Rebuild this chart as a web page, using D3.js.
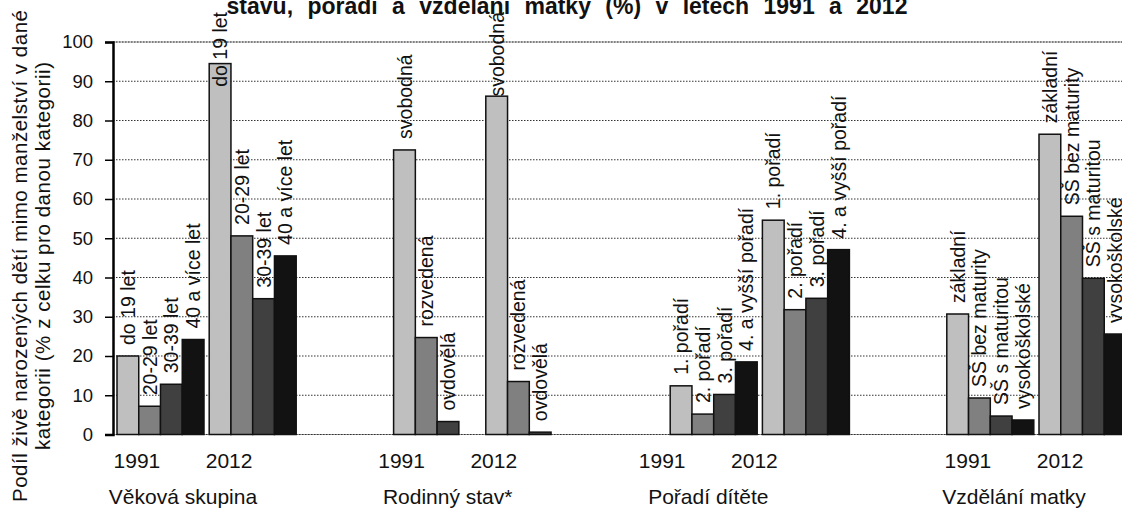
<!DOCTYPE html>
<html><head><meta charset="utf-8">
<script src="https://cdn.jsdelivr.net/npm/d3@7"></script>
<style>
html,body{margin:0;padding:0;background:#fff;}
svg{display:block;font-family:Arial,"Liberation Sans",sans-serif;}
</style></head>
<body>
<svg id="chart" width="1122" height="511"></svg>
<script>
// ---------------- DATA ----------------
const groups = ["Věková skupina", "Rodinný stav*", "Pořadí dítěte", "Vzdělání matky"];
const years = ["1991", "2012"];
const seriesAge = ["do 19 let", "20-29 let", "30-39 let", "40 a více let"];
const seriesMarital = ["svobodná", "rozvedená", "ovdovělá"];
const seriesOrder = ["1. pořadí", "2. pořadí", "3. pořadí", "4. a vyšší pořadí"];
const seriesEdu = ["základní", "SŠ bez maturity", "SŠ s maturitou", "vysokoškolské"];
const age1991 = [20.0, 7.2, 12.8, 24.2];
const age2012 = [94.5, 50.6, 34.6, 45.5];
const marital1991 = [72.5, 24.7, 3.3];
const marital2012 = [86.2, 13.5, 0.6];
const order1991 = [12.4, 5.2, 10.2, 18.5];
const order2012 = [54.6, 31.8, 34.7, 47.1];
const edu1991 = [30.7, 9.3, 4.7, 3.7];
const edu2012 = [76.5, 55.6, 39.8, 25.6];
const yTicks = [0, 10, 20, 30, 40, 50, 60, 70, 80, 90, 100];
const titleText = "stavu, pořadí a vzdělání matky (%) v letech 1991 a 2012";
const yTitle1 = "Podíl živě narozených dětí mimo manželství v dané";
const yTitle2 = "kategorii (% z celku pro danou kategorii)";

// ---------------- LAYOUT ----------------
const seriesLabels = [seriesAge, seriesMarital, seriesOrder, seriesEdu];
const values = [[age1991, age2012], [marital1991, marital2012], [order1991, order2012], [edu1991, edu2012]];
const fills = ["#bfbfbf", "#808080", "#404040", "#121212"];
const yearShift = [-23.6, -35.5, -51.5, -22.4];
const labelTop = 12, labelGap = 11;

const svg = d3.select("#chart");
const y = d3.scaleLinear().domain([0, 100]).range([434.5, 42]);
const slotIds = [];
groups.forEach((g, gi) => {
  years.forEach(yr => slotIds.push(gi + "|" + yr));
  if (gi < groups.length - 1) slotIds.push("gap" + gi);
});
const x = d3.scaleBand().domain(slotIds).range([117, 1126]).paddingInner(0.0564).paddingOuter(0);
const inner = d3.scaleBand().domain([0, 1, 2, 3]).range([0, x.bandwidth()]);

// plot border lines (top/bottom) and dotted gridlines
const plotL = 113, plotR = 1122;
svg.append("g").selectAll("line.border").data([0, 100]).join("line")
  .attr("x1", plotL).attr("x2", plotR).attr("y1", d => y(d)).attr("y2", d => y(d))
  .attr("stroke", "#9a9a9a").attr("stroke-width", 1.2);
svg.append("g").selectAll("line.grid").data(yTicks).join("line")
  .attr("x1", plotL).attr("x2", plotR).attr("y1", d => y(d)).attr("y2", d => y(d))
  .attr("stroke", "#333").attr("stroke-width", 1).attr("stroke-dasharray", "1.5,1.5");

// bars
const barData = [];
groups.forEach((g, gi) => years.forEach((yr, yi) => {
  values[gi][yi].forEach((v, si) => barData.push({gi, yi, si, v, label: seriesLabels[gi][si], slot: gi + "|" + yr}));
}));
svg.append("g").selectAll("rect").data(barData).join("rect")
  .attr("x", d => x(d.slot) + inner(d.si))
  .attr("width", inner.bandwidth())
  .attr("y", d => y(d.v))
  .attr("height", d => y(0) - y(d.v))
  .attr("fill", d => fills[d.si])
  .attr("stroke", "#111").attr("stroke-width", 1.5);

// y axis
const yAxis = d3.axisLeft(y).tickValues(yTicks).tickSize(8).tickPadding(12);
const ga = svg.append("g").attr("transform", `translate(${plotL},0)`).call(yAxis);
ga.select(".domain").attr("stroke", "#000").attr("stroke-width", 2.5);
ga.selectAll(".tick line").attr("stroke", "#000").attr("stroke-width", 1.5);
ga.selectAll(".tick text").attr("font-size", 18.5).attr("fill", "#111")
  .attr("font-family", "Arial, 'Liberation Sans', sans-serif");

// bar labels (rotated)
const lbl = svg.append("g").selectAll("text").data(barData).join("text")
  .attr("font-size", 19.5).attr("fill", "#111").attr("text-anchor", "start")
  .attr("dy", "0.36em")
  .text(d => d.label);
lbl.each(function(d) {
  const len = this.getComputedTextLength();
  let bottom = y(d.v) - labelGap;
  if (bottom - len < labelTop) bottom = labelTop + len;
  const cx = x(d.slot) + inner(d.si) + inner.bandwidth() / 2;
  d3.select(this).attr("transform", `translate(${cx},${bottom}) rotate(-90)`);
});

// year labels
const yearData = [];
groups.forEach((g, gi) => years.forEach(yr => yearData.push({gi, yr, slot: gi + "|" + yr})));
svg.append("g").selectAll("text").data(yearData).join("text")
  .attr("x", d => x(d.slot) + x.bandwidth() / 2 + yearShift[d.gi])
  .attr("y", 468).attr("text-anchor", "middle").attr("font-size", 21).attr("fill", "#111")
  .text(d => d.yr);

// group labels
svg.append("g").selectAll("text").data(groups).join("text")
  .attr("x", (g, gi) => (x(gi + "|1991") + x(gi + "|2012")) / 2 + x.bandwidth() / 2 + yearShift[gi])
  .attr("y", 504).attr("text-anchor", "middle").attr("font-size", 21).attr("fill", "#111")
  .text(d => d);

// y title
const yt = svg.append("g").attr("transform", "translate(0,256) rotate(-90)");
yt.append("text").attr("x", 0).attr("y", 27).attr("text-anchor", "middle")
  .attr("font-size", 20.5).attr("textLength", 492).attr("lengthAdjust", "spacing")
  .attr("fill", "#111").text(yTitle1);
yt.append("text").attr("x", 0).attr("y", 50).attr("text-anchor", "middle")
  .attr("font-size", 20.5).attr("textLength", 388).attr("lengthAdjust", "spacing")
  .attr("fill", "#111").text(yTitle2);

// title (second line visible)
svg.append("text").attr("x", 567).attr("y", 14).attr("text-anchor", "middle")
  .attr("font-size", 23).attr("font-weight", "bold").attr("word-spacing", 8).attr("fill", "#111")
  .text(titleText);
</script>
</body></html>
